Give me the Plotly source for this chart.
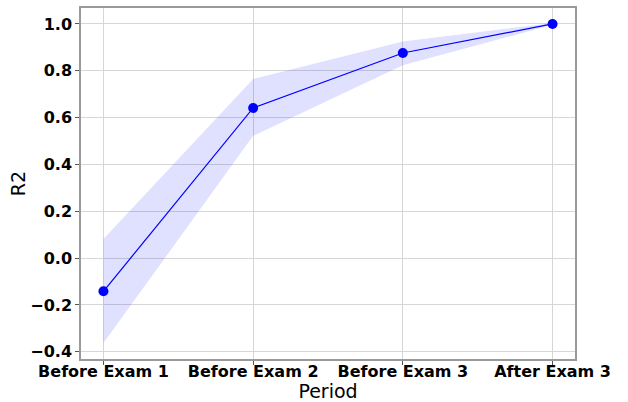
import plotly.graph_objects as go

# R2 by period, with the spread shown as a band
periods = ["Before Exam 1", "Before Exam 2", "Before Exam 3", "After Exam 3"]
r2_mean = [-0.142, 0.641, 0.876, 1.0]
r2_upper = [0.081, 0.765, 0.925, 1.004]
r2_lower = [-0.363, 0.522, 0.823, 0.996]

x_idx = list(range(len(periods)))

fig = go.Figure()
fig.add_trace(go.Scatter(
    x=x_idx, y=r2_upper, mode="lines", line=dict(width=0),
    hoverinfo="skip", showlegend=False,
))
fig.add_trace(go.Scatter(
    x=x_idx, y=r2_lower, mode="lines", line=dict(width=0),
    fill="tonexty", fillcolor="rgba(0,0,255,0.12)",
    hoverinfo="skip", showlegend=False,
))
fig.add_trace(go.Scatter(
    x=x_idx, y=r2_mean, mode="lines+markers",
    line=dict(color="#0000ff", width=1.2),
    marker=dict(color="#0000ff", size=10),
    showlegend=False,
))

tick_font = dict(family="DejaVu Sans", size=16, color="black", weight="bold")
title_font = dict(family="DejaVu Sans", size=19, color="black")

fig.update_xaxes(
    range=[-0.15, 3.15],
    tickmode="array", tickvals=x_idx, ticktext=periods,
    tickfont=tick_font, ticklabelstandoff=-7,
    title=dict(text="Period", font=title_font, standoff=0),
    showgrid=True, gridcolor="#d6d6d6", gridwidth=1,
    showline=True, linecolor="#9a9a9a", linewidth=1.5, mirror=True,
    ticks="outside", ticklen=4, tickcolor="#555555",
    zeroline=False, automargin=False,
)
fig.update_yaxes(
    range=[-0.431, 1.068],
    tickmode="array", tickvals=[-0.4, -0.2, 0.0, 0.2, 0.4, 0.6, 0.8, 1.0],
    ticktext=["\u22120.4", "\u22120.2", "0.0", "0.2", "0.4", "0.6", "0.8", "1.0"],
    tickfont=tick_font,
    title=dict(text="R2", font=title_font, standoff=0),
    showgrid=True, gridcolor="#d6d6d6", gridwidth=1,
    showline=True, linecolor="#9a9a9a", linewidth=1.5, mirror=True,
    ticks="outside", ticklen=4, tickcolor="#555555",
    zeroline=False, automargin=False,
)

fig.update_layout(
    width=628, height=402,
    margin=dict(l=81, r=53, t=8, b=43),
    paper_bgcolor="white", plot_bgcolor="white",
)

fig.write_html("out.html")
